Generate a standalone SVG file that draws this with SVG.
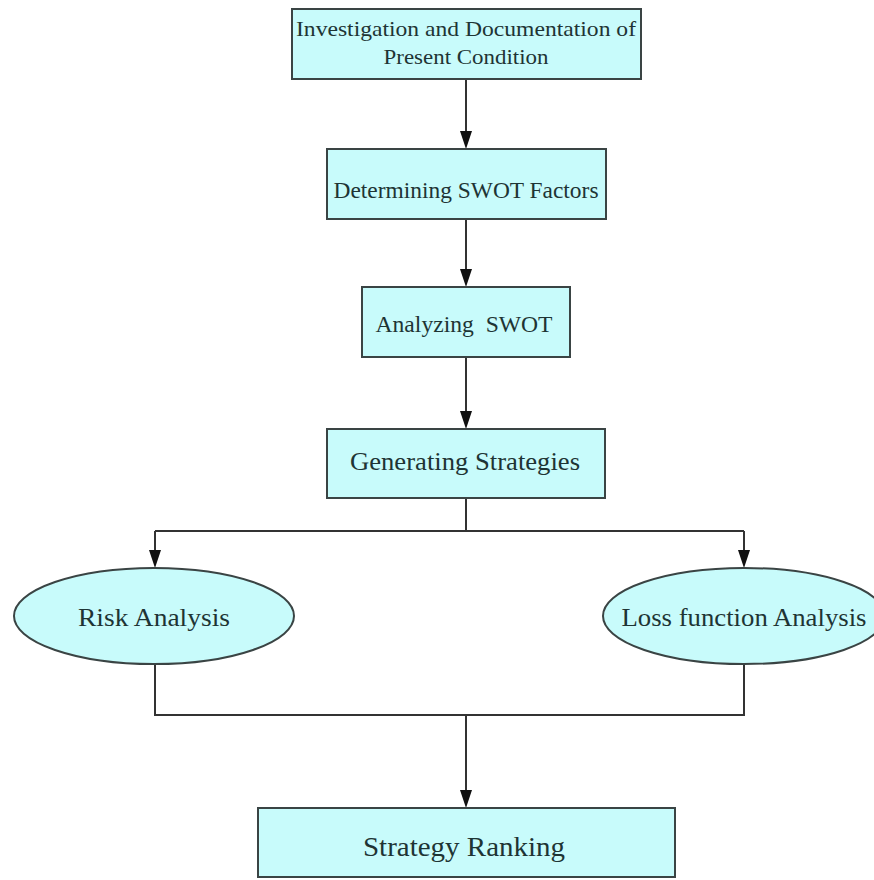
<svg xmlns="http://www.w3.org/2000/svg" width="874" height="880" viewBox="0 0 874 880">
<style>
.box{fill:#c8fbfb;stroke:#3a4444;stroke-width:2}
.lbl{font-family:'Liberation Serif','DejaVu Serif',serif;fill:#1e3434;text-anchor:middle}
.con{fill:none;stroke:#333;stroke-width:2}
.ah{fill:#111}
</style>
<rect width="874" height="880" fill="#fff"/>
<g id="connectors">
<path class="con" d="M466,79 V131"/>
<path class="ah" d="M460,131 L472,131 L466,149 Z"/>
<path class="con" d="M466,219 V269"/>
<path class="ah" d="M460,269 L472,269 L466,287 Z"/>
<path class="con" d="M466,357 V411"/>
<path class="ah" d="M460,411 L472,411 L466,429 Z"/>
<path class="con" d="M466,498 V531 M155,531 H744 M155,531 V550 M744,531 V550"/>
<path class="ah" d="M149,550 L161,550 L155,568 Z"/>
<path class="ah" d="M738,550 L750,550 L744,568 Z"/>
<path class="con" d="M155,663 V715 H744 V663 M466,715 V790"/>
<path class="ah" d="M460,790 L472,790 L466,808 Z"/>
</g>
<g id="n1">
<rect class="box" x="292" y="9" width="349" height="70"/>
<text class="lbl" x="466" y="36" font-size="22" textLength="340" lengthAdjust="spacingAndGlyphs">Investigation and Documentation of</text>
<text class="lbl" x="466" y="64" font-size="22" textLength="165" lengthAdjust="spacingAndGlyphs">Present Condition</text>
</g>
<g id="n2">
<rect class="box" x="327" y="149" width="279" height="70"/>
<text class="lbl" x="466" y="198" font-size="23" textLength="265" lengthAdjust="spacingAndGlyphs">Determining SWOT Factors</text>
</g>
<g id="n3">
<rect class="box" x="362" y="287" width="208" height="70"/>
<text class="lbl" x="464" y="332" font-size="24" textLength="177" lengthAdjust="spacingAndGlyphs">Analyzing&#160; SWOT</text>
</g>
<g id="n4">
<rect class="box" x="327" y="429" width="278" height="69"/>
<text class="lbl" x="465" y="470" font-size="26" textLength="230" lengthAdjust="spacingAndGlyphs">Generating Strategies</text>
</g>
<g id="n5">
<ellipse class="box" cx="154" cy="616" rx="140" ry="48"/>
<text class="lbl" x="154" y="626" font-size="26" textLength="152" lengthAdjust="spacingAndGlyphs">Risk Analysis</text>
</g>
<g id="n6">
<ellipse class="box" cx="744" cy="616" rx="141" ry="48"/>
<text class="lbl" x="744" y="626" font-size="25" textLength="245" lengthAdjust="spacingAndGlyphs">Loss function Analysis</text>
</g>
<g id="n7">
<rect class="box" x="258" y="808" width="417" height="69"/>
<text class="lbl" x="464" y="856" font-size="28" textLength="202" lengthAdjust="spacingAndGlyphs">Strategy Ranking</text>
</g>
</svg>
